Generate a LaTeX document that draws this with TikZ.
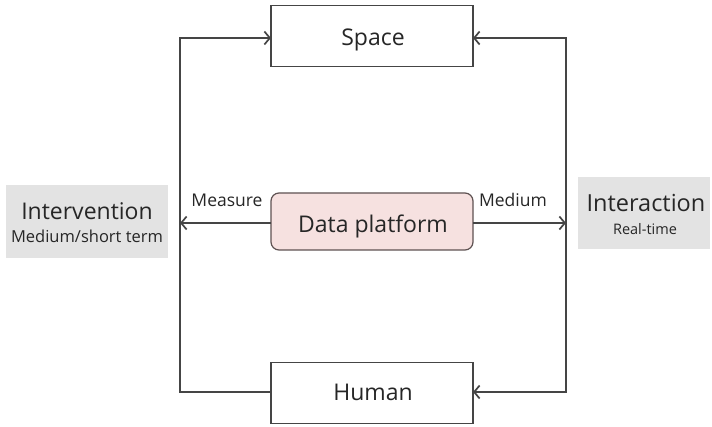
\documentclass[tikz,border=0pt]{standalone}
\usepackage{fontspec}
\setmainfont{Open Sans}
\usetikzlibrary{arrows.meta}
\definecolor{linegray}{HTML}{454545}
\definecolor{platedge}{HTML}{5E5252}
\definecolor{boxgray}{HTML}{E3E3E3}
\definecolor{platpink}{HTML}{F6E1E0}
\begin{document}
\begin{tikzpicture}[x=1pt,y=-1pt,
  every node/.style={inner sep=0pt, outer sep=0pt, text=black!85},
  framebox/.style={draw=linegray, line width=1.4pt, fill=white, minimum width=202pt, minimum height=61pt},
  platbox/.style={draw=platedge, line width=1.2pt, fill=platpink, rounded corners=8pt, minimum width=202pt, minimum height=57pt},
  sidebox/.style={fill=boxgray},
  bigtxt/.style={font=\fontsize{23}{26}\selectfont, anchor=base},
  conn/.style={draw=linegray, line width=1.4pt},
  tip/.style={-{Straight Barb[length=5.5pt,width=13pt,line width=1.7pt]}},
  lbl/.style={font=\fontsize{17.5}{20}\selectfont, anchor=base}
]
\useasboundingbox (0,0) rectangle (712,427);

% main boxes
\node[framebox] (space) at (372,36) {};
\node[bigtxt] (spacetxt) at (373,46) {Space};
\node[framebox] (human) at (372,393) {};
\node[bigtxt] (humantxt) at (373,400) {Human};
\node[platbox] (plat) at (372,221.5) {};
\node[bigtxt] (plattxt) at (373,233) {Data platform};

% side boxes
\node[sidebox, minimum width=162pt, minimum height=73pt] (interv) at (87,221.5) {};
\node[bigtxt] (intervtxt) at (87,220) {Intervention};
\node[lbl, font=\fontsize{16.5}{19}\selectfont] (intervsub) at (87,243) {Medium/short term};
\node[sidebox, minimum width=132pt, minimum height=72pt] (inter) at (644,213) {};
\node[bigtxt, font=\fontsize{23.5}{26}\selectfont] (intertxt) at (646,212) {Interaction};
\node[lbl, font=\fontsize{14.5}{17}\selectfont] (intersub) at (645,235) {Real-time};

% loop corners
\coordinate (lt) at (180,38);
\coordinate (lb) at (180,392);
\coordinate (rt) at (566,38);
\coordinate (rb) at (566,392);
\coordinate (lm) at (180,223);
\coordinate (rm) at (566,223);

% left loop: from Human up to Space
\draw[conn, tip] (human.west |- lb) -- (lb) -- (lt) -- (space.west |- lt);
% right loop: into Space and into Human
\draw[conn, tip] (rm) -- (rt) -- (space.east |- rt);
\draw[conn, tip] (rm) -- (rb) -- (human.east |- rb);
\draw[conn] (rt) -- (rb);

% platform arrows
\draw[conn, tip] (plat.west |- lm) -- (lm);
\draw[conn, tip] (plat.east |- rm) -- (rm);

% arrow labels
\node[lbl] (measure) at (227,207) {Measure};
\node[lbl] (medium) at (513,207) {Medium};
\end{tikzpicture}
\end{document}
